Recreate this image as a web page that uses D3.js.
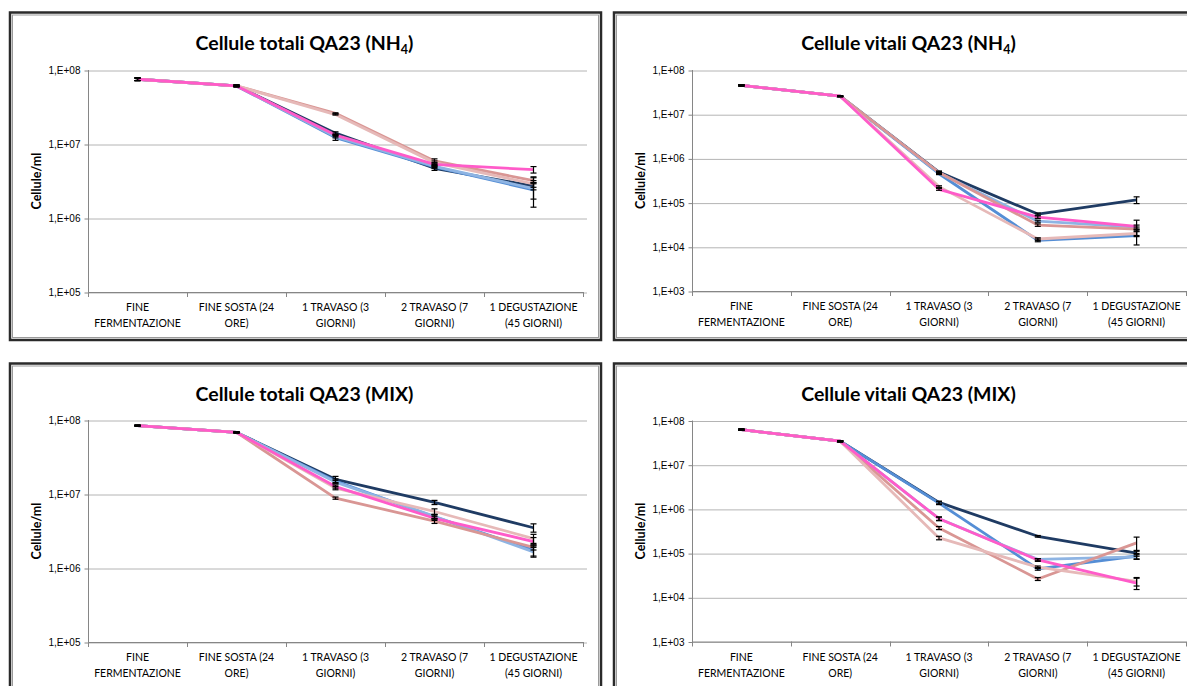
<!DOCTYPE html>
<html lang="it">
<head>
<meta charset="UTF-8">
<title>Cellule totali e vitali QA23</title>
<script src="https://d3js.org/d3.v7.min.js"></script>
<style>
  body { margin: 0; background: #fff; }
  svg { display: block; font-family: Lato, "Open Sans", sans-serif; }
  .grid line { stroke: #b4b4b4; stroke-width: 1px; }
  .grid path { display: none; }
  .yaxis path, .yaxis line { stroke: #868686; }
  .yaxis text { font-size: 10px; fill: #000; }
  .xlabel { font-size: 10.5px; fill: #000; }
</style>
</head>
<body>
<svg id="chart" width="1187" height="686"></svg>
<script>
// ---- data -------------------------------------------------------------
const categories = [
  ["FINE", "FERMENTAZIONE"],
  ["FINE SOSTA (24", "ORE)"],
  ["1 TRAVASO (3", "GIORNI)"],
  ["2 TRAVASO (7", "GIORNI)"],
  ["1 DEGUSTAZIONE", "(45 GIORNI)"]
];

// series order: navy, blue, light blue, rose, light rose, magenta
const seriesColors = ["#1f3b63", "#558ed5", "#8eb4e3", "#d99694", "#e6b9b8", "#ff5bc9"];

const ticksTotali = [1e5, 1e6, 1e7, 1e8];
const ticksVitali = [1e3, 1e4, 1e5, 1e6, 1e7, 1e8];
const tickLabel = v => "1,E+0" + Math.round(Math.log10(v));

const totaliNH4 = [
  [7.5e7, 6.1e7, 1.40e7, 4.7e6, 2.7e6],
  [7.5e7, 6.1e7, 1.22e7, 4.9e6, 2.4e6],
  [7.5e7, 6.1e7, 1.26e7, 5.0e6, 2.5e6],
  [7.5e7, 6.1e7, 2.60e7, 5.9e6, 3.2e6],
  [7.5e7, 6.1e7, 2.50e7, 5.6e6, 2.9e6],
  [7.5e7, 6.1e7, 1.32e7, 5.3e6, 4.5e6]
];
const totaliNH4Err = [
  [3e6, 1.5e6, 0.6e6, 0.3e6, 0.3e6],
  [3e6, 1.5e6, 1.0e6, 0.2e6, 0.6e6],
  [3e6, 1.5e6, 0.5e6, 0.2e6, 1.1e6],
  [3e6, 1.5e6, 0.4e6, 0.4e6, 0.3e6],
  [3e6, 1.5e6, 0.4e6, 0.3e6, 0.3e6],
  [3e6, 1.5e6, 0.5e6, 0.3e6, 0.45e6]
];

const vitaliNH4 = [
  [4.5e7, 2.55e7, 4.9e5, 5.5e4, 1.15e5],
  [4.5e7, 2.55e7, 4.5e5, 1.4e4, 1.8e4],
  [4.5e7, 2.55e7, 4.7e5, 3.8e4, 2.8e4],
  [4.5e7, 2.55e7, 4.8e5, 3.1e4, 2.5e4],
  [4.5e7, 2.55e7, 2.3e5, 1.5e4, 2.0e4],
  [4.5e7, 2.55e7, 2.0e5, 4.7e4, 2.9e4]
];
const vitaliNH4Err = [
  [1.5e6, 5e5, 3e4, 3e3, 2e4],
  [1.5e6, 5e5, 2e4, 1e3, 7e3],
  [1.5e6, 5e5, 2e4, 2e3, 3e3],
  [1.5e6, 5e5, 2e4, 2e3, 3e3],
  [1.5e6, 5e5, 1e4, 1e3, 3e3],
  [1.5e6, 5e5, 1e4, 3e3, 1.1e4]
];

const totaliMIX = [
  [8.4e7, 6.8e7, 1.58e7, 7.7e6, 3.5e6],
  [8.4e7, 6.8e7, 1.50e7, 4.9e6, 1.75e6],
  [8.4e7, 6.8e7, 1.45e7, 5.0e6, 1.65e6],
  [8.4e7, 6.8e7, 8.8e6, 4.3e6, 1.9e6],
  [8.4e7, 6.8e7, 1.20e7, 5.8e6, 2.5e6],
  [8.4e7, 6.8e7, 1.26e7, 4.7e6, 2.28e6]
];
const totaliMIXErr = [
  [1e6, 1e6, 1.5e6, 0.5e6, 0.45e6],
  [1e6, 1e6, 1.0e6, 0.3e6, 0.3e6],
  [1e6, 1e6, 0.8e6, 0.3e6, 0.25e6],
  [1e6, 1e6, 0.3e6, 0.3e6, 0.15e6],
  [1e6, 1e6, 0.6e6, 0.5e6, 0.35e6],
  [1e6, 1e6, 0.6e6, 0.3e6, 0.3e6]
];

const vitaliMIX = [
  [6.2e7, 3.4e7, 1.40e6, 2.4e5, 1.0e5],
  [6.2e7, 3.4e7, 1.35e6, 4.4e4, 8.6e4],
  [6.2e7, 3.4e7, 6.0e5, 7.2e4, 8.2e4],
  [6.2e7, 3.4e7, 3.7e5, 2.6e4, 1.7e5],
  [6.2e7, 3.4e7, 2.2e5, 4.8e4, 2.3e4],
  [6.2e7, 3.4e7, 6.0e5, 7.0e4, 2.1e4]
];
const vitaliMIXErr = [
  [2e6, 1e6, 1e5, 1e4, 1.5e4],
  [2e6, 1e6, 1e5, 3e3, 1.2e4],
  [2e6, 1e6, 5e4, 3e3, 1e4],
  [2e6, 1e6, 3e4, 2e3, 6e4],
  [2e6, 1e6, 2e4, 3e3, 5e3],
  [2e6, 1e6, 6e4, 5e3, 6e3]
];

// ---- panels -----------------------------------------------------------
const panels = [
  { title: ["Cellule totali QA23 (NH", "4", ")"], values: totaliNH4, errors: totaliNH4Err, ticks: ticksTotali,
    frame: { x: 10, y: 12.5 }, plot: { left: 88, right: 583, top: 70, bottom: 292 } },
  { title: ["Cellule vitali QA23 (NH", "4", ")"], values: vitaliNH4, errors: vitaliNH4Err, ticks: ticksVitali,
    frame: { x: 614, y: 12.5 }, plot: { left: 692, right: 1186, top: 70, bottom: 291 } },
  { title: ["Cellule totali QA23 (MIX)"], values: totaliMIX, errors: totaliMIXErr, ticks: ticksTotali,
    frame: { x: 10, y: 363.5 }, plot: { left: 88, right: 583, top: 420, bottom: 642 } },
  { title: ["Cellule vitali QA23 (MIX)"], values: vitaliMIX, errors: vitaliMIXErr, ticks: ticksVitali,
    frame: { x: 614, y: 363.5 }, plot: { left: 692, right: 1186, top: 420.5, bottom: 641.5 } }
];

const frameW = 591, frameH = 327.5;
const svg = d3.select("#chart");

panels.forEach(drawPanel);

function drawPanel(p) {
  const g = svg.append("g");
  const { left, right, top, bottom } = p.plot;

  // frame (dark outer border + thin grey inner line)
  g.append("rect")
    .attr("x", p.frame.x).attr("y", p.frame.y)
    .attr("width", frameW).attr("height", frameH)
    .attr("fill", "#fff").attr("stroke", "#2a2a2a").attr("stroke-width", 2.5);
  g.append("rect")
    .attr("x", p.frame.x + 2.5).attr("y", p.frame.y + 2.5)
    .attr("width", frameW - 5).attr("height", frameH - 5)
    .attr("fill", "none").attr("stroke", "#9a9a9a").attr("stroke-width", 1);

  // title with optional subscript
  const title = g.append("text")
    .attr("x", p.frame.x + frameW / 2 - 1)
    .attr("y", p.frame.y + 37)
    .attr("text-anchor", "middle")
    .attr("font-size", 19.5)
    .attr("font-weight", 700);
  title.append("tspan").text(p.title[0]);
  if (p.title.length > 1) {
    title.append("tspan").attr("font-size", 12.5).attr("dy", 4).text(p.title[1]);
    title.append("tspan").attr("dy", -4).text(p.title[2]);
  }

  const x = d3.scaleBand().domain(d3.range(categories.length)).range([left, right]).padding(0);
  const y = d3.scaleLog()
    .domain([d3.min(p.ticks), d3.max(p.ticks)])
    .range([bottom, top]);

  // gridlines
  g.append("g")
    .attr("class", "grid")
    .attr("transform", `translate(${left},0)`)
    .call(d3.axisLeft(y).tickValues(p.ticks).tickSize(-(right - left) - 4).tickFormat(""))
    .selectAll("line").attr("transform", "translate(0,0.5)");

  // y axis
  const ya = g.append("g")
    .attr("class", "yaxis")
    .attr("transform", `translate(${left + 0.5},0)`)
    .call(d3.axisLeft(y).tickValues(p.ticks).tickFormat(tickLabel).tickSize(4).tickSizeOuter(0).tickPadding(4));
  ya.select(".domain").attr("d", `M0,${top}V${bottom + 0.5}`);
  ya.selectAll(".tick line").attr("transform", "translate(0,0.5)");
  ya.selectAll("text").attr("dy", "0.35em");

  // x axis line and boundary ticks
  g.append("line")
    .attr("x1", left).attr("x2", right)
    .attr("y1", bottom + 0.5).attr("y2", bottom + 0.5)
    .attr("stroke", "#868686");
  const bounds = categories.map((c, i) => x(i)).concat([right]);
  g.selectAll(".xtick").data(bounds).join("line")
    .attr("x1", d => Math.round(d) + 0.5).attr("x2", d => Math.round(d) + 0.5)
    .attr("y1", bottom).attr("y2", bottom + 5)
    .attr("stroke", "#868686");

  // category labels (two lines each)
  const lbl = g.selectAll(".xlabel").data(categories).join("text")
    .attr("class", "xlabel")
    .attr("text-anchor", "middle")
    .attr("transform", (d, i) => `translate(${x(i) + x.bandwidth() / 2},${bottom + 19})`);
  lbl.selectAll("tspan").data(d => d).join("tspan")
    .attr("x", 0)
    .attr("y", (d, i) => i * 16)
    .text(d => d);

  // y axis title
  g.append("text")
    .attr("transform", `translate(${p.frame.x + 31},${(top + bottom) / 2}) rotate(-90)`)
    .attr("text-anchor", "middle")
    .attr("font-size", 12.5)
    .attr("font-weight", 700)
    .text("Cellule/ml");

  // lines
  const cx = i => x(i) + x.bandwidth() / 2;
  const line = d3.line().x((d, i) => cx(i)).y(d => y(d));
  g.selectAll(".series").data(p.values).join("path")
    .attr("fill", "none")
    .attr("stroke", (d, i) => seriesColors[i])
    .attr("stroke-width", 2.8)
    .attr("stroke-linejoin", "round")
    .attr("d", line);

  // error bars
  const bars = [];
  p.values.forEach((row, s) => row.forEach((v, i) => {
    bars.push({ x: cx(i), hi: y(v + p.errors[s][i]), lo: y(Math.max(v - p.errors[s][i], d3.min(p.ticks))) });
  }));
  const eb = g.append("g").attr("stroke", "#000").attr("stroke-width", 1.2);
  eb.selectAll(".stem").data(bars).join("line")
    .attr("x1", d => d.x).attr("x2", d => d.x)
    .attr("y1", d => d.hi).attr("y2", d => d.lo);
  eb.selectAll(".caphi").data(bars).join("line")
    .attr("x1", d => d.x - 3).attr("x2", d => d.x + 3)
    .attr("y1", d => d.hi).attr("y2", d => d.hi);
  eb.selectAll(".caplo").data(bars).join("line")
    .attr("x1", d => d.x - 3).attr("x2", d => d.x + 3)
    .attr("y1", d => d.lo).attr("y2", d => d.lo);
}
</script>
</body>
</html>
